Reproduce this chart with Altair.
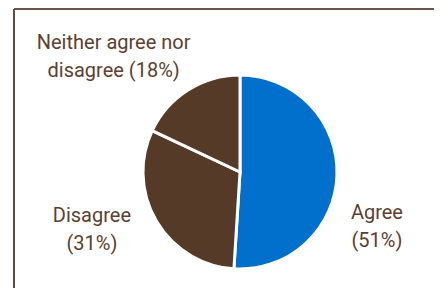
import altair as alt
import pandas as pd

categories = ["Agree", "Disagree", "Neither agree nor disagree"]
values = [51, 31, 18]
labels = ["Agree\n(51%)", "Disagree\n(31%)", "Neither agree nor\ndisagree (18%)"]
colors = ["#0070CC", "#553A28", "#553A28"]

df = pd.DataFrame({"category": categories, "value": values, "label": labels,
                   "order": [0, 1, 2]})

W, H = 426, 280
CX, CY, R = 232, 164, 97
TXT = "#5C4130"
FONT = "Roboto"

base = alt.Chart(df)

pie = base.mark_arc(stroke="white", strokeWidth=3, radius=R).encode(
    theta=alt.Theta("value:Q", stack=True),
    order=alt.Order("order:Q"),
    color=alt.Color("category:N", scale=alt.Scale(domain=categories, range=colors), legend=None),
    x=alt.value(CX), y=alt.value(CY),
)

def label_layer(cat, radius, dx, dy):
    return base.mark_text(font=FONT, fontSize=20, color=TXT, lineBreak="\n",
                          lineHeight=28, align="center", baseline="middle",
                          radius=radius, dx=dx, dy=dy).encode(
        theta=alt.Theta("value:Q", stack=True),
        order=alt.Order("order:Q"),
        text="label:N",
        x=alt.value(CX), y=alt.value(CY),
        opacity=alt.condition(alt.datum.category == cat, alt.value(1), alt.value(0)),
    )

lab_agree = label_layer("Agree", 137, 0, 37)
lab_dis = label_layer("Disagree", 150, -19, -32)
lab_nei = label_layer("Neither agree nor disagree", 150, -46, -2)

top_line = alt.Chart(df).mark_rule(color="#5A3F2C", strokeWidth=1.2).encode(
    x=alt.value(6), x2=alt.value(W), y=alt.value(1))
left_line = alt.Chart(df).mark_rule(color="#5A3F2C", strokeWidth=1.2).encode(
    x=alt.value(6), y=alt.value(1), y2=alt.value(H))

chart = alt.layer(top_line, left_line, pie, lab_agree, lab_dis, lab_nei).properties(
    width=W, height=H, padding=0, autosize="none"
).configure_view(stroke=None)

chart.save("out.html", embed_options={"renderer": "svg", "actions": False})
